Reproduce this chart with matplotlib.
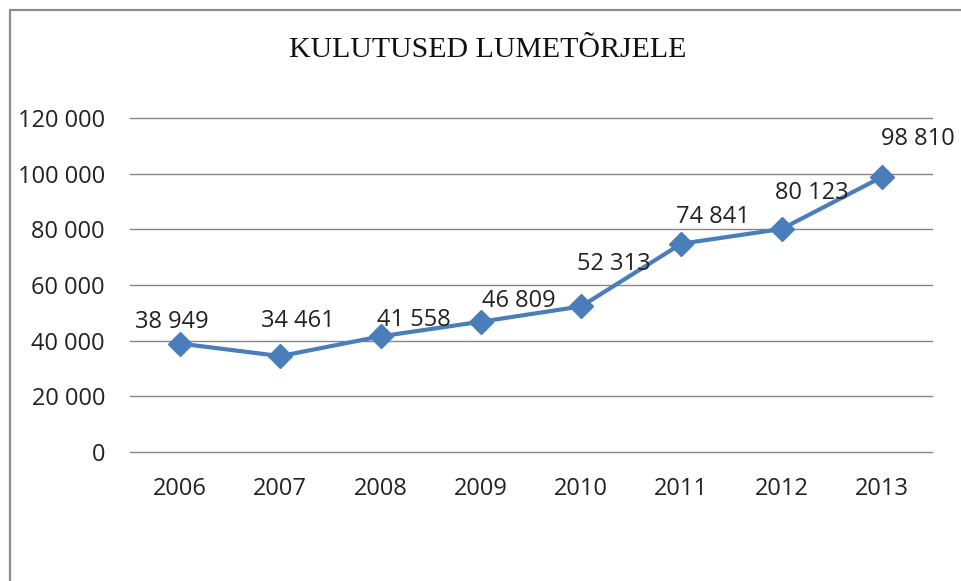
import matplotlib
matplotlib.use("Agg")
import matplotlib.pyplot as plt
from matplotlib.lines import Line2D
from matplotlib.ticker import FuncFormatter

years = ["2006", "2007", "2008", "2009", "2010", "2011", "2012", "2013"]
costs = [38949, 34461, 41558, 46809, 52313, 74841, 80123, 98810]
title = "KULUTUSED LUMETÕRJELE"

# label offsets (pixels, left edge / baseline relative to the point)
lab_dx = [-45, -19, -4, 1, -4, -5, -7, -1]
lab_dy = [16, 29, 10, 15, 36, 21, 30, 32]

plt.rcParams["font.family"] = ["Open Sans", "DejaVu Sans"]

W, H = 962, 581
fig = plt.figure(figsize=(W / 100, H / 100), dpi=100)
ax = fig.add_axes([130 / W, 1 - 452 / H, (932 - 130) / W, (452 - 118) / H])

x = range(len(years))
ax.plot(x, costs, color="#4A7EBB", lw=3, marker="D", ms=12, zorder=3)

for i, v in enumerate(costs):
    ax.annotate(f"{v:,}".replace(",", " "), (i, v), xytext=(lab_dx[i] * 0.72, lab_dy[i] * 0.72),
                textcoords="offset points", ha="left", va="baseline",
                fontsize=17, color="#222222", annotation_clip=False)

ax.set_xlim(-0.5, len(years) - 0.5)
ax.set_ylim(0, 120000)
ax.set_yticks(range(0, 120001, 20000))
ax.yaxis.set_major_formatter(FuncFormatter(lambda v, p: f"{int(v):,}".replace(",", " ")))
ax.set_xticks(list(x))
ax.set_xticklabels(years)
ax.grid(axis="y", color="#868686", lw=1)
for gl in ax.get_ygridlines():
    gl.set_clip_on(False)
ax.set_axisbelow(True)
for s in ax.spines.values():
    s.set_visible(False)
ax.tick_params(axis="both", length=0, labelsize=17, labelcolor="#222222")
ax.tick_params(axis="y", pad=18)
ax.tick_params(axis="x", pad=18)

fig.text(488 / W, 1 - 50 / H, title, ha="center", va="center",
         family="Liberation Serif", fontsize=21.5, color="#111111")

# chart border (left and top edges only visible)
bx, by = 9.5 / W, 1 - 9.5 / H
fig.add_artist(Line2D([bx, bx, 1], [0, by, by], transform=fig.transFigure,
                      color="#8C8C8C", lw=1.6))

fig.savefig("out.png", dpi=100)
